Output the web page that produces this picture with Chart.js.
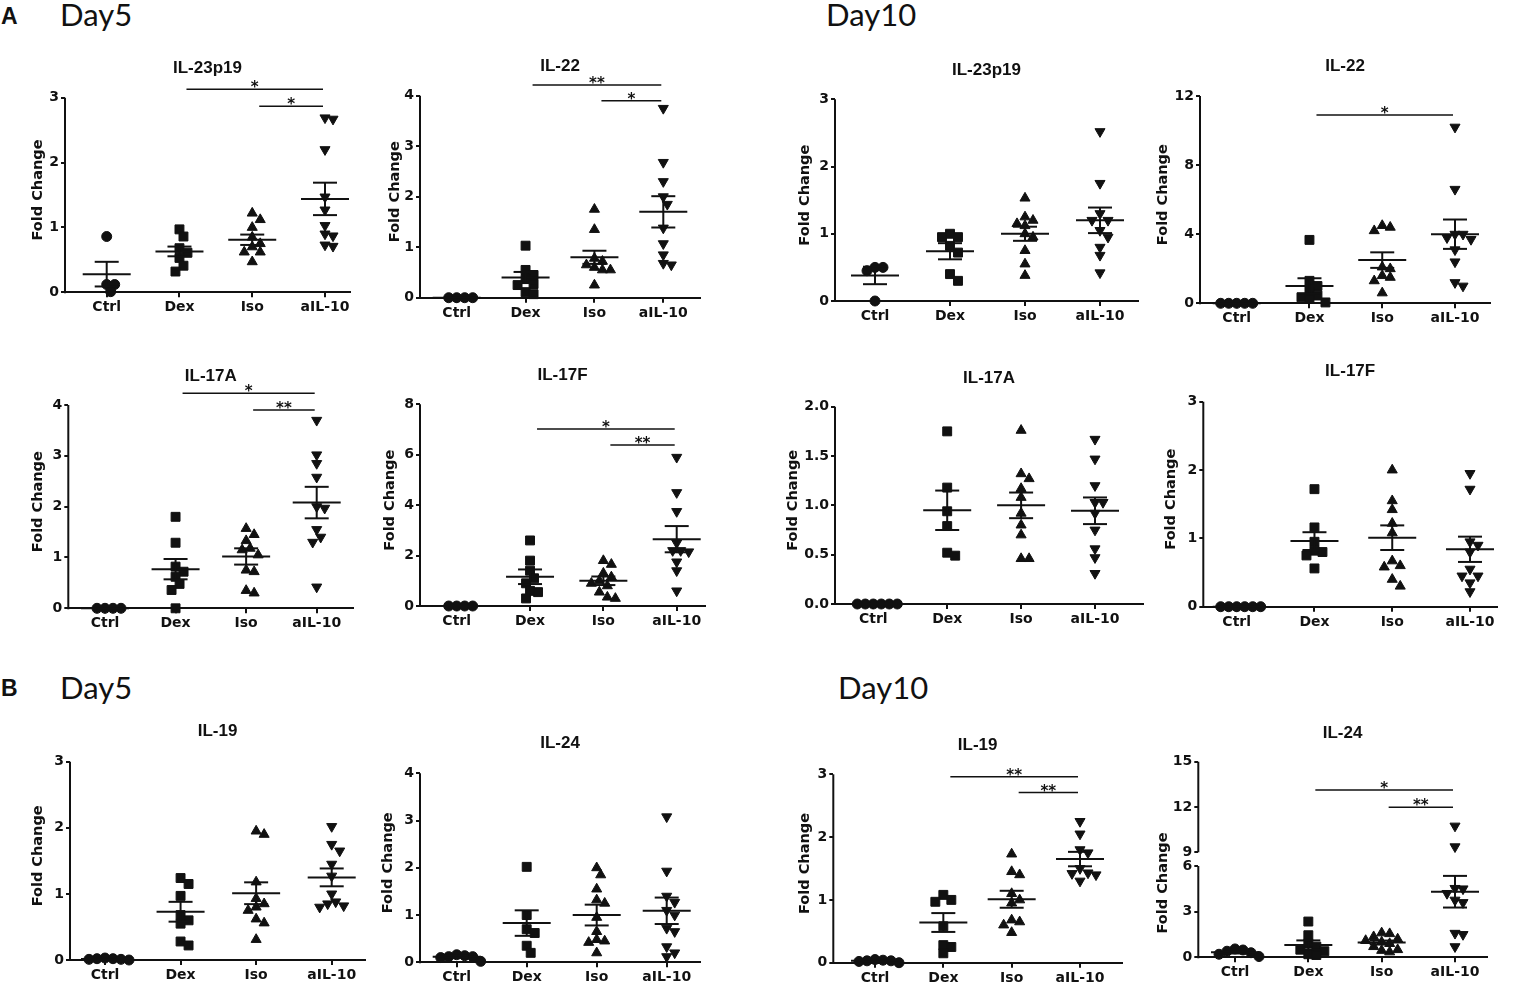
<!DOCTYPE html>
<html>
<head>
<meta charset="utf-8">
<title>Fold change dot plots</title>
<script src="https://cdn.jsdelivr.net/npm/chart.js@4.4.1/dist/chart.umd.min.js"></script>
<style>
  body { margin: 0; background: #fff; width: 1515px; height: 984px; position: relative; overflow: hidden; }
  canvas { position: absolute; }
  .letter { position: absolute; font: bold 23px "Liberation Sans", Arial, sans-serif; line-height: 23px; color: #111; }
  .day { position: absolute; font: 31px Lato, "Open Sans", sans-serif; line-height: 31px; color: #111; }
</style>
</head>
<body>
<div class="letter" style="left:1px;top:5px">A</div>
<div class="day" style="left:60px;top:-1px">Day5</div>
<div class="day" style="left:826px;top:-1px">Day10</div>
<div class="letter" style="left:1px;top:677px">B</div>
<div class="day" style="left:60px;top:672px">Day5</div>
<div class="day" style="left:838px;top:672px">Day10</div>

<script>
// ---------- Data ----------
const groups = ["Ctrl", "Dex", "Iso", "aIL-10"];

// y tick labels
const ticks3 = [0, 1, 2, 3];
const ticks4 = [0, 1, 2, 3, 4];
const ticks8 = [0, 2, 4, 6, 8];
const ticks12 = [0, 4, 8, 12];
const ticks2 = [0, 0.5, 1, 1.5, 2];
const ticksLow = [0, 3, 6];
const ticksHigh = [9, 12, 15];

// A, Day5
const a5_il23p19 = [
  [0.86, 0.12, 0.12, 0.01],
  [0.97, 0.86, 0.68, 0.61, 0.53, 0.41, 0.32],
  [1.22, 1.12, 1.00, 0.85, 0.75, 0.70, 0.62, 0.62, 0.47],
  [2.69, 2.67, 2.20, 1.47, 1.27, 1.03, 0.90, 0.87, 0.73, 0.71]
];
const a5_il23p19_mean = [0.28, 0.63, 0.81, 1.44];
const a5_il23p19_sem = [0.19, 0.075, 0.08, 0.25];

const a5_il22 = [
  [0, 0, 0, 0],
  [1.03, 0.55, 0.45, 0.37, 0.27, 0.25, 0.11, 0.07],
  [1.75, 1.35, 0.78, 0.72, 0.65, 0.60, 0.55, 0.55, 0.25],
  [3.75, 2.68, 2.30, 2.00, 1.85, 1.38, 1.07, 0.85, 0.68, 0.65]
];
const a5_il22_mean = [0, 0.40, 0.80, 1.70];
const a5_il22_sem = [0, 0.11, 0.13, 0.31];

const a5_il17a = [
  [0, 0, 0, 0],
  [1.80, 1.29, 0.82, 0.72, 0.62, 0.48, 0.36, 0.0],
  [1.57, 1.45, 1.33, 1.18, 1.15, 1.05, 0.75, 0.72, 0.35, 0.30],
  [3.70, 3.02, 2.85, 2.58, 2.00, 1.97, 1.55, 1.40, 1.30, 0.42]
];
const a5_il17a_mean = [0, 0.77, 1.02, 2.08];
const a5_il17a_sem = [0, 0.20, 0.16, 0.31];

const a5_il17f = [
  [0, 0, 0, 0],
  [2.60, 1.80, 1.40, 1.10, 0.90, 0.60, 0.55, 0.30],
  [1.80, 1.65, 1.30, 1.15, 1.00, 0.90, 0.80, 0.55, 0.35, 0.30],
  [5.90, 4.50, 3.75, 2.50, 2.20, 2.20, 2.15, 1.75, 1.40, 0.60]
];
const a5_il17f_mean = [0, 1.16, 1.00, 2.65];
const a5_il17f_sem = [0, 0.29, 0.17, 0.52];

// A, Day10
const a10_il23p19 = [
  [0.50, 0.50, 0.45, 0.0],
  [1.00, 0.95, 0.95, 0.82, 0.72, 0.40, 0.30],
  [1.53, 1.25, 1.20, 1.15, 1.12, 1.00, 0.95, 0.75, 0.55, 0.38],
  [2.52, 1.75, 1.30, 1.20, 1.20, 1.05, 0.95, 0.80, 0.68, 0.42]
];
const a10_il23p19_mean = [0.38, 0.74, 1.00, 1.20];
const a10_il23p19_sem = [0.13, 0.12, 0.105, 0.19];

const a10_il22 = [
  [0, 0, 0, 0, 0],
  [3.67, 1.30, 1.00, 0.75, 0.45, 0.35, 0.25, 0.05],
  [4.50, 4.40, 4.20, 2.10, 2.00, 1.60, 1.50, 1.30, 0.60],
  [10.2, 6.6, 4.0, 4.0, 3.8, 3.7, 3.1, 2.4, 1.2, 1.0]
];
const a10_il22_mean = [0, 1.00, 2.50, 4.00];
const a10_il22_sem = [0, 0.45, 0.45, 0.85];

const a10_il17a = [
  [0, 0, 0, 0, 0, 0],
  [1.75, 1.18, 0.94, 0.79, 0.52, 0.49],
  [1.76, 1.32, 1.27, 1.17, 1.08, 0.92, 0.80, 0.70, 0.46, 0.46],
  [1.67, 1.47, 1.20, 1.03, 1.03, 0.92, 0.75, 0.56, 0.47, 0.31]
];
const a10_il17a_mean = [0, 0.95, 1.00, 0.945];
const a10_il17a_sem = [0, 0.20, 0.13, 0.135];

const a10_il17f = [
  [0, 0, 0, 0, 0, 0],
  [1.72, 1.16, 0.95, 0.82, 0.80, 0.75, 0.56],
  [2.00, 1.55, 1.42, 1.22, 1.08, 0.67, 0.60, 0.58, 0.40, 0.30],
  [1.95, 1.72, 0.95, 0.90, 0.80, 0.55, 0.45, 0.45, 0.35, 0.22]
];
const a10_il17f_mean = [0, 0.96, 1.01, 0.84];
const a10_il17f_sem = [0, 0.13, 0.18, 0.185];

// B, Day5
const b5_il19 = [
  [0.03, 0.02, 0.02, 0.01, 0.01, 0.0],
  [1.24, 1.15, 0.97, 0.68, 0.60, 0.55, 0.28, 0.22],
  [1.95, 1.90, 1.18, 0.93, 0.85, 0.80, 0.75, 0.62, 0.56, 0.31],
  [2.02, 1.75, 1.65, 1.45, 1.27, 1.00, 0.88, 0.85, 0.82, 0.80]
];
const b5_il19_mean = [0.015, 0.73, 1.01, 1.25];
const b5_il19_sem = [0.005, 0.15, 0.165, 0.135];

const b5_il24 = [
  [0.16, 0.14, 0.12, 0.12, 0.10, 0.02],
  [2.02, 1.00, 0.70, 0.62, 0.35, 0.20],
  [2.00, 1.85, 1.55, 1.32, 1.25, 0.95, 0.65, 0.48, 0.45, 0.42, 0.20],
  [3.08, 1.93, 1.40, 1.27, 1.10, 1.00, 0.72, 0.65, 0.33, 0.20, 0.12]
];
const b5_il24_mean = [0.12, 0.83, 1.00, 1.09];
const b5_il24_sem = [0.02, 0.27, 0.22, 0.28];

// B, Day10
const b10_il19 = [
  [0.05, 0.04, 0.03, 0.03, 0.02, 0.0],
  [1.08, 1.00, 0.97, 0.58, 0.28, 0.25, 0.15],
  [1.73, 1.45, 1.40, 1.10, 1.00, 0.95, 0.68, 0.65, 0.60, 0.48],
  [2.25, 2.05, 1.80, 1.75, 1.50, 1.43, 1.42, 1.40, 1.30]
];
const b10_il19_mean = [0.03, 0.64, 1.01, 1.65];
const b10_il19_sem = [0.01, 0.15, 0.135, 0.115];

const b10_il24 = [
  [0.55, 0.48, 0.40, 0.30, 0.20, 0.05],
  [2.35, 1.45, 0.90, 0.70, 0.50, 0.40, 0.20, 0.15],
  [1.60, 1.55, 1.35, 1.20, 1.10, 1.00, 0.90, 0.70, 0.50, 0.45, 0.35],
  [10.74, 9.37, 4.53, 4.50, 4.20, 3.76, 3.60, 1.58, 1.50, 0.70]
];
const b10_il24_mean = [0.33, 0.81, 0.98, 4.31];
const b10_il24_sem = [0.08, 0.30, 0.12, 1.04];

const panels = [
  { title: "IL-23p19", data: a5_il23p19, mean: a5_il23p19_mean, sem: a5_il23p19_sem, ticks: ticks3,
    ax: 65, y0: 292.3, yt: 97.7, xEnd: 350, c1: 106.7, c4: 325, titleY: 68, ylabX: 38,
    sig: [{ a: 1, b: 3, y: 3.13, t: "*" }, { a: 2, b: 3, y: 2.87, t: "*" }] },
  { title: "IL-22", data: a5_il22, mean: a5_il22_mean, sem: a5_il22_sem, ticks: ticks4,
    ax: 420, y0: 297.7, yt: 95.7, xEnd: 700, c1: 456.7, c4: 663.3, titleY: 66, ylabX: 395,
    sig: [{ a: 1, b: 3, y: 4.21, t: "**" }, { a: 2, b: 3, y: 3.90, t: "*" }] },
  { title: "IL-23p19", data: a10_il23p19, mean: a10_il23p19_mean, sem: a10_il23p19_sem, ticks: ticks3,
    ax: 835, y0: 301, yt: 99.3, xEnd: 1138, c1: 875, c4: 1100, titleY: 70, ylabX: 805, sig: [] },
  { title: "IL-22", data: a10_il22, mean: a10_il22_mean, sem: a10_il22_sem, ticks: ticks12,
    ax: 1200, y0: 303.3, yt: 96, xEnd: 1490, c1: 1236.7, c4: 1455, titleY: 66.7, ylabX: 1163,
    sig: [{ a: 1, b: 3, y: 10.9, t: "*" }] },
  { title: "IL-17A", data: a5_il17a, mean: a5_il17a_mean, sem: a5_il17a_sem, ticks: ticks4,
    ax: 68.3, y0: 608.3, yt: 405, xEnd: 353.3, c1: 105, c4: 316.7, titleY: 376.7, ylabX: 38,
    sig: [{ a: 1, b: 3, y: 4.23, t: "*" }, { a: 2, b: 3, y: 3.90, t: "**" }] },
  { title: "IL-17F", data: a5_il17f, mean: a5_il17f_mean, sem: a5_il17f_sem, ticks: ticks8,
    ax: 420, y0: 606, yt: 404.3, xEnd: 705, c1: 456.7, c4: 676.7, titleY: 375, ylabX: 390,
    sig: [{ a: 1, b: 3, y: 7.02, t: "*" }, { a: 2, b: 3, y: 6.39, t: "**" }] },
  { title: "IL-17A", data: a10_il17a, mean: a10_il17a_mean, sem: a10_il17a_sem, ticks: ticks2, dec: 1,
    ax: 835, y0: 604, yt: 406.7, xEnd: 1143, c1: 873.3, c4: 1095, titleY: 378.3, ylabX: 793.3, sig: [] },
  { title: "IL-17F", data: a10_il17f, mean: a10_il17f_mean, sem: a10_il17f_sem, ticks: ticks3,
    ax: 1203.3, y0: 606.7, yt: 401.7, xEnd: 1497, c1: 1236.7, c4: 1470, titleY: 371.7, ylabX: 1171.7, sig: [] },
  { title: "IL-19", data: b5_il19, mean: b5_il19_mean, sem: b5_il19_sem, ticks: ticks3,
    ax: 70, y0: 960, yt: 761.7, xEnd: 365, c1: 105, c4: 331.7, titleY: 731.7, ylabX: 38.3, sig: [] },
  { title: "IL-24", data: b5_il24, mean: b5_il24_mean, sem: b5_il24_sem, ticks: ticks4,
    ax: 420, y0: 962.3, yt: 773.3, xEnd: 700, c1: 456.7, c4: 666.7, titleY: 743.3, ylabX: 388.3, sig: [] },
  { title: "IL-19", data: b10_il19, mean: b10_il19_mean, sem: b10_il19_sem, ticks: ticks3,
    ax: 833.3, y0: 962.7, yt: 774.3, xEnd: 1122, c1: 875, c4: 1080, titleY: 745, ylabX: 805,
    sig: [{ a: 1, b: 3, y: 2.96, t: "**" }, { a: 2, b: 3, y: 2.71, t: "**" }] },
  { title: "IL-24", data: b10_il24, mean: b10_il24_mean, sem: b10_il24_sem,
    ax: 1198.3, y0: 957.3, xEnd: 1486.7, c1: 1235, c4: 1455, titleY: 733.3, ylabX: 1163.3, ylabY: 883,
    brk: { low: ticksLow, high: ticksHigh, yLowTop: 866, yHighBottom: 852.3, yt: 761.7 },
    sig: [{ a: 1, b: 3, y: 13.13, t: "*", upper: true }, { a: 2, b: 3, y: 11.98, t: "**", upper: true }] }
];

// ---------- Style ----------
const INK = "#111";
const tickFont = { family: "'DejaVu Sans', sans-serif", size: 14, weight: "bold" };
const labelFont = { family: "'DejaVu Sans', sans-serif", size: 14.5, weight: "bold" };
const shapes = [
  { pointStyle: "circle", radius: 5, rotation: 0 },
  { pointStyle: "rect", radius: 6.3, rotation: 0 },
  { pointStyle: "triangle", radius: 5.8, rotation: 0 },
  { pointStyle: "triangle", radius: 5.8, rotation: 180 }
];

// spread points of one group sideways so they don't sit on top of each other
function spread(vals, ppuY) {
  const order = vals.map((v, i) => i).sort((a, b) => vals[b] - vals[a]);
  const placed = [];
  const off = new Array(vals.length).fill(0);
  for (const i of order) {
    const py = vals[i] * ppuY;
    for (let k = 0; k < 60; k++) {
      const dx = (k % 2 ? 1 : -1) * Math.ceil(k / 2) * 4;
      if (placed.every(q => Math.hypot(q.x - dx, q.y - py) >= 8)) {
        off[i] = dx;
        placed.push({ x: dx, y: py });
        break;
      }
    }
  }
  return off;
}

function yAxis(ticks, min, max, dec, width, showTitle, extra) {
  return Object.assign({
    type: "linear",
    position: "left",
    min: min,
    max: max,
    afterBuildTicks: s => { s.ticks = ticks.map(v => ({ value: v })); },
    afterFit: s => { s.width = width; },
    ticks: { font: tickFont, color: INK, padding: 2, callback: v => dec ? Number(v).toFixed(dec) : v },
    grid: { display: true, drawOnChartArea: false, drawTicks: true, tickLength: 4, color: INK, lineWidth: 2 },
    border: { display: false },
    title: { display: showTitle, text: "Fold Change", font: labelFont, color: INK, padding: 0 }
  }, extra || {});
}

function buildPanel(p) {
  const u = (p.c4 - p.c1) / 3;
  const xMin = 1 - (p.c1 - p.ax) / u;
  const xMax = 4 + (p.xEnd - p.c4) / u;
  const YW = p.ax - p.ylabX + labelFont.size * 0.6;
  const XH = 24;
  const left = Math.floor(p.ax - YW - 4);
  const top = Math.floor(p.titleY - 16);
  const W = Math.ceil(p.xEnd + 8 - left);
  const H = Math.ceil(p.y0 + 30 - top);

  const canvas = document.createElement("canvas");
  canvas.width = W;
  canvas.height = H;
  canvas.style.left = left + "px";
  canvas.style.top = top + "px";
  document.body.appendChild(canvas);

  let scalesY, ppuY, areaTop, tickMax;
  if (!p.brk) {
    tickMax = p.ticks[p.ticks.length - 1];
    ppuY = (p.y0 - p.yt) / tickMax;
    areaTop = p.yt - 10;
    scalesY = { y: yAxis(p.ticks, 0, tickMax + 10 / ppuY, p.dec, YW, true) };
  } else {
    const b = p.brk;
    const lowMaxTick = b.low[b.low.length - 1];
    const highMinTick = b.high[0];
    const highMaxTick = b.high[b.high.length - 1];
    const ppuL = (p.y0 - b.yLowTop) / lowMaxTick;
    const ppuH = (b.yHighBottom - b.yt) / (highMaxTick - highMinTick);
    const split = (b.yLowTop + b.yHighBottom) / 2;
    areaTop = b.yt - 10;
    ppuY = ppuL;
    scalesY = {
      y: yAxis(b.low, 0, lowMaxTick + (b.yLowTop - split) / ppuL, 0, YW, false,
        { stack: "fc", stackWeight: p.y0 - split }),
      y2: yAxis(b.high, highMinTick - (split - b.yHighBottom) / ppuH, highMaxTick + 10 / ppuH, 0, YW, false,
        { stack: "fc", stackWeight: split - areaTop })
    };
  }

  const datasets = [];
  p.data.forEach((vals, i) => {
    const off = spread(vals, ppuY);
    const pts = vals.map((v, j) => ({ x: i + 1 + off[j] / u, y: v }));
    const base = {
      pointStyle: shapes[i].pointStyle,
      pointRadius: shapes[i].radius,
      pointRotation: shapes[i].rotation,
      pointBackgroundColor: INK,
      pointBorderColor: INK,
      pointBorderWidth: 1,
      showLine: false,
      clip: false
    };
    if (p.brk) {
      const cut = p.brk.low[p.brk.low.length - 1] + 1;
      datasets.push(Object.assign({ label: groups[i], data: pts.filter(q => q.y < cut), yAxisID: "y" }, base));
      const hi = pts.filter(q => q.y >= cut);
      if (hi.length) datasets.push(Object.assign({ label: groups[i], data: hi, yAxisID: "y2" }, base));
    } else {
      datasets.push(Object.assign({ label: groups[i], data: pts }, base));
    }
  });

  const overlay = {
    id: "dotOverlay",
    afterDraw(chart) {
      const { ctx, chartArea: a, scales } = chart;
      const x = scales.x, y = scales.y;
      const line = (x1, y1, x2, y2) => { ctx.beginPath(); ctx.moveTo(x1, y1); ctx.lineTo(x2, y2); ctx.stroke(); };
      ctx.save();
      ctx.strokeStyle = INK;
      ctx.fillStyle = INK;
      ctx.lineWidth = 2;

      // y axis drawn only over the tick range (GraphPad style)
      const segs = p.brk
        ? [[y, 0, p.brk.low[p.brk.low.length - 1]], [scales.y2, p.brk.high[0], p.brk.high[p.brk.high.length - 1]]]
        : [[y, 0, tickMax]];
      for (const [s, lo, hi] of segs) {
        line(a.left, s.getPixelForValue(lo) + (lo === 0 ? 1 : 0), a.left, s.getPixelForValue(hi));
      }

      // mean and SEM
      p.mean.forEach((m, i) => {
        const cx = x.getPixelForValue(i + 1);
        const my = y.getPixelForValue(m);
        line(cx - 24, my, cx + 24, my);
        if (p.sem[i] > 0) {
          const hi = y.getPixelForValue(m + p.sem[i]);
          const lo = y.getPixelForValue(m - p.sem[i]);
          line(cx, lo, cx, hi);
          line(cx - 12, hi, cx + 12, hi);
          line(cx - 12, lo, cx + 12, lo);
        }
      });

      // significance bars
      ctx.lineWidth = 1.5;
      ctx.font = "bold 15px 'DejaVu Sans', sans-serif";
      ctx.textAlign = "center";
      ctx.textBaseline = "alphabetic";
      for (const s of p.sig) {
        const sc = s.upper ? scales.y2 : y;
        const sy = sc.getPixelForValue(s.y);
        const x1 = x.getPixelForValue(s.a + 1) + 7;
        const x2 = x.getPixelForValue(s.b + 1) - 2;
        line(x1, sy, x2, sy);
        ctx.fillText(s.t, (x1 + x2) / 2, sy + 3);
      }

      // panel title
      ctx.font = "bold 17px 'Liberation Sans', Arial, sans-serif";
      ctx.textBaseline = "middle";
      ctx.fillText(p.title, (a.left + a.right) / 2, p.titleY - top);

      // broken axis: one label for both segments
      if (p.brk) {
        ctx.font = "bold 14.5px 'DejaVu Sans', sans-serif";
        ctx.translate(p.ylabX - left, p.ylabY - top);
        ctx.rotate(-Math.PI / 2);
        ctx.fillText("Fold Change", 0, 0);
      }
      ctx.restore();
    }
  };

  new Chart(canvas, {
    type: "scatter",
    data: { datasets: datasets },
    options: {
      responsive: false,
      animation: false,
      events: [],
      layout: {
        padding: {
          left: p.ax - YW - left,
          top: areaTop - top,
          right: left + W - p.xEnd,
          bottom: H - (p.y0 - top) - XH
        }
      },
      plugins: {
        legend: { display: false },
        tooltip: { enabled: false }
      },
      scales: Object.assign({
        x: {
          type: "linear",
          min: xMin,
          max: xMax,
          afterBuildTicks: s => { s.ticks = groups.map((g, i) => ({ value: i + 1 })); },
          afterFit: s => { s.height = XH; },
          ticks: { font: tickFont, color: INK, padding: 2, autoSkip: false, maxRotation: 0,
                   callback: v => groups[Math.round(v) - 1] },
          grid: { display: true, drawOnChartArea: false, tickLength: 5, color: INK, lineWidth: 2 },
          border: { display: true, color: INK, width: 2 }
        }
      }, scalesY)
    },
    plugins: [overlay]
  });
}

panels.forEach(buildPanel);
</script>
</body>
</html>
